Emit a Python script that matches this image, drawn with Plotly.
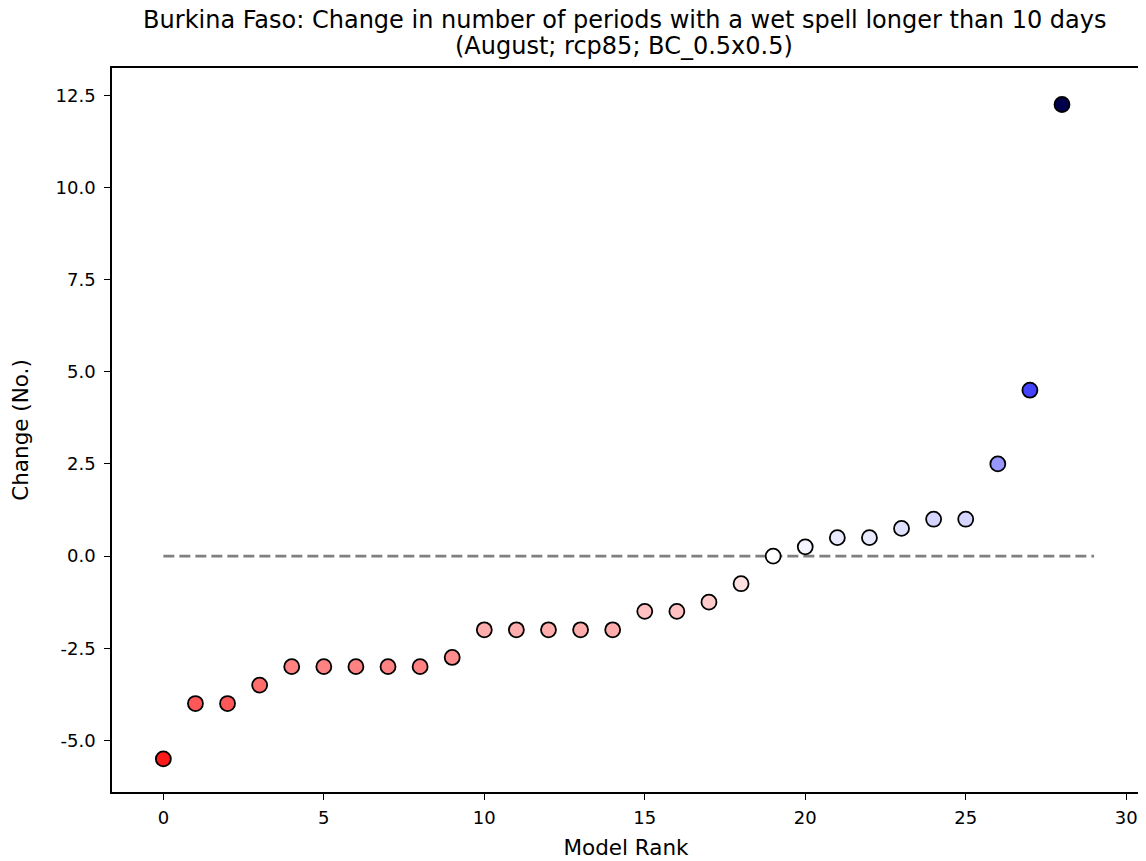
import plotly.graph_objects as go

ranks = list(range(29))
changes = [-5.5, -4, -4, -3.5, -3, -3, -3, -3, -3, -2.75,
           -2, -2, -2, -2, -2, -1.5, -1.5, -1.25, -0.75, 0,
           0.25, 0.5, 0.5, 0.75, 1, 1, 2.5, 4.5, 12.25]
ref_x = [0, 29]
ref_y = [0, 0]
x_ticks = [0, 5, 10, 15, 20, 25, 30]
y_ticks = [-5.0, -2.5, 0.0, 2.5, 5.0, 7.5, 10.0, 12.5]
title_line1 = "Burkina Faso: Change in number of periods with a wet spell longer than 10 days"
title_line2 = "(August; rcp85; BC_0.5x0.5)"

vmax = max(abs(v) for v in changes)
seismic_r = [[0.0, "rgb(128,0,0)"], [0.25, "rgb(255,0,0)"], [0.5, "rgb(255,255,255)"],
             [0.75, "rgb(0,0,255)"], [1.0, "rgb(0,0,77)"]]

fig = go.Figure()
fig.add_trace(go.Scatter(x=ref_x, y=ref_y, mode="lines",
                         line=dict(color="grey", width=2.75, dash="11px,5px"),
                         showlegend=False, hoverinfo="skip"))
fig.add_trace(go.Scatter(x=ranks, y=changes, mode="markers",
                         marker=dict(size=15, color=changes, colorscale=seismic_r,
                                     cmin=-vmax, cmax=vmax,
                                     line=dict(color="black", width=1.8)),
                         showlegend=False))

font = "DejaVu Sans, Verdana, sans-serif"
axis_common = dict(showgrid=False, zeroline=False, showline=True, mirror=True,
                   linecolor="black", linewidth=1.5, ticks="outside", ticklen=6,
                   tickwidth=1.3, tickcolor="black",
                   tickfont=dict(family=font, size=18, color="black"))
fig.update_layout(
    width=1138, height=853,
    paper_bgcolor="white", plot_bgcolor="white",
    margin=dict(l=104, r=4, t=60, b=69),
    title=dict(text=title_line1,
               x=0.542, xanchor="center", y=1 - 12 / 853, yanchor="middle",
               font=dict(family=font, size=24, color="black")),
    xaxis=dict(range=[-1.6, 30.43], tickvals=x_ticks, ticktext=[str(v) for v in x_ticks],
               ticklabelstandoff=3,
               title=dict(text="Model Rank", font=dict(family=font, size=21.5, color="black"), standoff=13),
               **axis_common),
    yaxis=dict(range=[-6.40, 13.24], tickvals=y_ticks, ticktext=[f"{v:.1f}" for v in y_ticks],
               ticklabelstandoff=5,
               title=dict(text="Change (No.)", font=dict(family=font, size=21.5, color="black"), standoff=21),
               **axis_common),
)
fig.add_annotation(text=title_line2, xref="paper", yref="paper",
                   x=(617 - 104) / (1138 - 108), y=1 + (60 - 38) / (853 - 129),
                   xanchor="center", yanchor="middle", showarrow=False,
                   font=dict(family=font, size=24, color="black"))
fig.write_html("out.html")
